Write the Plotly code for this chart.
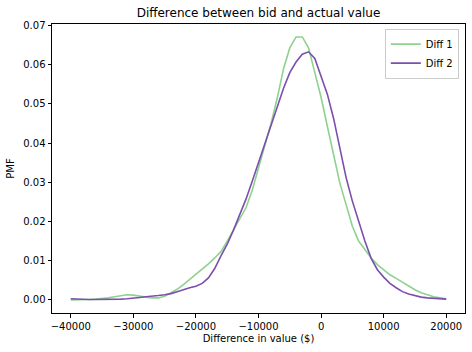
import plotly.graph_objects as go

xs = list(range(-40000, 20001, 1000))

diff1 = [0.0000, 0.0000, 0.0001, 0.0001, 0.0002, 0.0003, 0.0005, 0.0008, 0.0011, 0.0013,
         0.0012, 0.0009, 0.0007, 0.0005, 0.0005, 0.0009, 0.0017, 0.0027, 0.0039, 0.0052,
         0.0065, 0.0078, 0.0092, 0.0107, 0.0123, 0.0150, 0.0178, 0.0205, 0.0235, 0.0280,
         0.0335, 0.0395, 0.0450, 0.0515, 0.0590, 0.0643, 0.0671, 0.0671, 0.0643, 0.0580,
         0.0517, 0.0443, 0.0370, 0.0298, 0.0243, 0.0188, 0.0150, 0.0127, 0.0107, 0.0090,
         0.0077, 0.0064, 0.0055, 0.0045, 0.0035, 0.0026, 0.0018, 0.0012, 0.0008, 0.0005,
         0.0003]

diff2 = [0.0003, 0.0002, 0.0001, 0.0001, 0.0001, 0.0001, 0.0001, 0.0001, 0.0002, 0.0003,
         0.0004, 0.0006, 0.0008, 0.0009, 0.0011, 0.0013, 0.0016, 0.0021, 0.0027, 0.0031,
         0.0035, 0.0042, 0.0056, 0.0080, 0.0112, 0.0142, 0.0178, 0.0218, 0.0257, 0.0303,
         0.0350, 0.0400, 0.0446, 0.0495, 0.0540, 0.0580, 0.0607, 0.0627, 0.0633, 0.0616,
         0.0570, 0.0525, 0.0463, 0.0386, 0.0312, 0.0252, 0.0198, 0.0150, 0.0106, 0.0077,
         0.0058, 0.0042, 0.0031, 0.0021, 0.0015, 0.0010, 0.0007, 0.0005, 0.0004, 0.0003,
         0.0002]

x_ticks = [-40000, -30000, -20000, -10000, 0, 10000, 20000]
y_ticks = [0.00, 0.01, 0.02, 0.03, 0.04, 0.05, 0.06, 0.07]

fig = go.Figure()
fig.add_trace(go.Scatter(x=xs, y=diff1, mode="lines", name="Diff 1",
                         line=dict(color="#8fd18f", width=1.6)))
fig.add_trace(go.Scatter(x=xs, y=diff2, mode="lines", name="Diff 2",
                         line=dict(color="#7a4fad", width=1.6)))

font = "DejaVu Sans"
fig.update_layout(
    width=472, height=352,
    margin=dict(l=52, r=7, t=23.5, b=39),
    paper_bgcolor="white", plot_bgcolor="white",
    font=dict(family=font, size=10, color="#000000"),
    title=dict(text="Difference between bid and actual value", x=(52 + 465) / 2 / 472,
               xanchor="center", y=1 - 12.5 / 352, yanchor="middle",
               font=dict(family=font, size=12, color="#000000")),
    showlegend=True,
    legend=dict(x=0.985, y=0.984, xanchor="right", yanchor="top",
                bgcolor="rgba(255,255,255,0.8)", bordercolor="#cccccc", borderwidth=1,
                font=dict(family=font, size=10), tracegroupgap=0),
    xaxis=dict(range=[-43000, 23000], tickvals=x_ticks, tickformat="d",
               ticks="outside", ticklen=3.5, tickwidth=1, tickcolor="black",
               showline=True, linecolor="black", linewidth=1, mirror=True,
               showgrid=False, zeroline=False,
               title=dict(text="Difference in value ($)", standoff=4,
                          font=dict(family=font, size=10))),
    yaxis=dict(range=[-0.00335, 0.0704], tickvals=y_ticks, tickformat=".2f",
               ticks="outside", ticklen=3.5, tickwidth=1, tickcolor="black",
               showline=True, linecolor="black", linewidth=1, mirror=True,
               showgrid=False, zeroline=False,
               title=dict(text="PMF", standoff=6, font=dict(family=font, size=10))),
)

fig.write_html("out.html")
